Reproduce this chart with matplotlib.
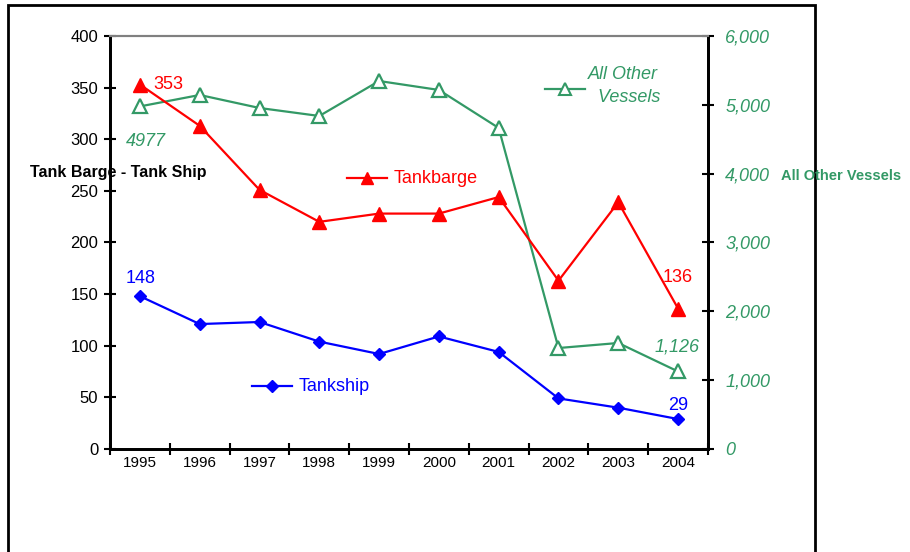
import matplotlib
matplotlib.use("Agg")
import matplotlib.pyplot as plt
from matplotlib.patches import Rectangle
from matplotlib.lines import Line2D

plt.rcParams['font.family'] = ['Liberation Sans', 'DejaVu Sans']

# data
years = ['1995', '1996', '1997', '1998', '1999', '2000', '2001', '2002', '2003', '2004']
tankship = [148, 121, 123, 104, 92, 109, 94, 49, 40, 29]
tankbarge = [353, 313, 251, 220, 228, 228, 244, 163, 239, 136]
other_vessels = [4977, 5143, 4954, 4838, 5346, 5216, 4664, 1467, 1540, 1126]

GREEN = '#339966'
x = list(range(len(years)))

fig = plt.figure(figsize=(9.10, 5.52), dpi=100)
ax = fig.add_axes([0.1209, 0.1866, 0.6571, 0.7482])
ax2 = ax.twinx()

ax.plot(x, tankship, color='blue', lw=1.6, marker='D', ms=6, zorder=3)
ax.plot(x, tankbarge, color='red', lw=1.6, marker='^', ms=10, zorder=3)
ax2.plot(x, other_vessels, color=GREEN, lw=1.6, marker='^', ms=10,
         markerfacecolor='white', markeredgecolor=GREEN, markeredgewidth=1.6)

ax.set_xlim(-0.5, len(years) - 0.5)
ax.set_ylim(0, 400)
ax2.set_ylim(0, 6000)
ax.set_yticks(range(0, 401, 50))
ax2.set_yticks(range(0, 6001, 1000))
ax2.set_yticklabels(['0'] + [f'{v:,}' for v in range(1000, 6001, 1000)],
                    color=GREEN, fontstyle='italic', fontsize=13)

# category boundaries as ticks, year labels centred
ax.set_xticks([i - 0.5 for i in range(len(years) + 1)])
ax.set_xticklabels([])
ax.set_xticks(x, minor=True)
ax.set_xticklabels(years, minor=True, fontsize=11)
ax.tick_params(axis='x', which='major', direction='inout', length=9, width=1.5)
ax.tick_params(axis='x', which='minor', length=0, pad=5)
ax.tick_params(axis='y', direction='inout', length=9, width=1.5, labelsize=12, pad=4)
ax2.tick_params(axis='y', direction='inout', length=9, width=1.5, pad=8)

for a in (ax, ax2):
    a.spines['top'].set_color('#808080')
    a.spines['top'].set_linewidth(1.5)
    a.spines['left'].set_linewidth(2)
    a.spines['bottom'].set_linewidth(2)
    a.spines['right'].set_linewidth(2)
ax.set_zorder(ax2.get_zorder() + 1)
ax.patch.set_visible(False)

# data labels
ax.text(0.23, 353, '353', color='red', fontsize=13, va='center')
ax.text(0.02, 157, '148', color='blue', fontsize=13, ha='center', va='bottom')
ax.text(9.0, 166, '136', color='red', fontsize=13, ha='center', va='center')
ax.text(9.0, 34, '29', color='blue', fontsize=13, ha='center', va='bottom')
ax2.text(0.1, 4470, '4977', color=GREEN, fontsize=13, fontstyle='italic', ha='center', va='center')
ax2.text(8.98, 1480, '1,126', color=GREEN, fontsize=13, fontstyle='italic', ha='center', va='center')


# inline legend entries: a short line with one marker in its middle
def legend_entry(axis, x0, y0, color, marker, ms, **mk):
    axis.add_line(Line2D([x0, x0 + 0.68], [y0, y0], color=color, lw=1.6))
    axis.add_line(Line2D([x0 + 0.34], [y0], linestyle='none', color=color,
                         marker=marker, ms=ms, **mk))


legend_entry(ax, 3.46, 262, 'red', '^', 9)
ax.text(4.25, 262, 'Tankbarge', color='red', fontsize=13, va='center')
legend_entry(ax, 1.87, 61, 'blue', 'D', 6)
ax.text(2.65, 61, 'Tankship', color='blue', fontsize=13, va='center')
legend_entry(ax2, 6.77, 5230, GREEN, '^', 9,
             markerfacecolor='white', markeredgecolor=GREEN, markeredgewidth=1.5)
ax2.text(7.5, 5270, 'All Other\n  Vessels', color=GREEN, fontsize=13, fontstyle='italic',
         va='center', linespacing=1.45)

# axis titles (horizontal, as in the reference)
fig.text(30 / 910, 1 - 172 / 552, 'Tank Barge - Tank Ship', fontsize=11.5, fontweight='bold',
         va='center', zorder=10)
fig.text(781 / 910, 1 - 176 / 552, 'All Other Vessels', fontsize=10.5, fontweight='bold',
         color=GREEN, va='center', zorder=10)

# outer chart frame
fig.patches.append(Rectangle((8 / 910, -0.05), 807 / 910, 1.05 - 5 / 552, transform=fig.transFigure,
                             fill=False, edgecolor='black', lw=2))

fig.savefig('out.png', dpi=100)
